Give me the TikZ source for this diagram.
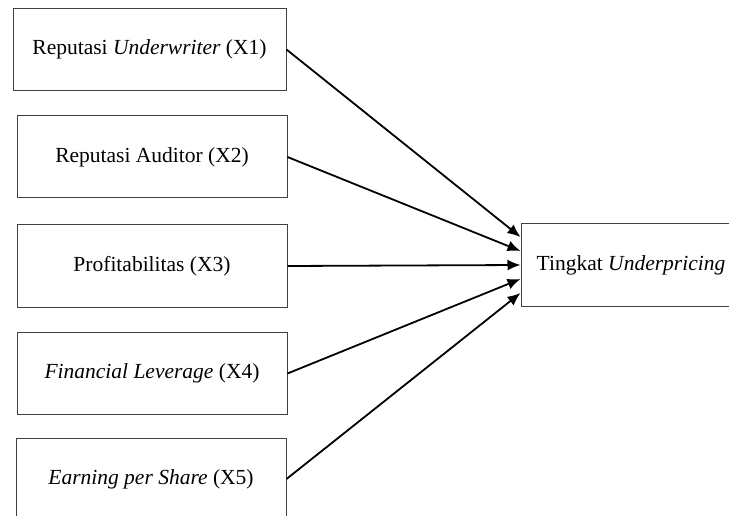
\documentclass[tikz,border=0pt]{standalone}
\usepackage{fontspec}
\setmainfont{Liberation Serif}
\usetikzlibrary{arrows.meta}
\begin{document}
\begin{tikzpicture}[x=1pt,y=-1pt]
        \tikzstyle{varbox}=[draw=black!75,line width=1pt,rectangle,minimum width=270pt,minimum height=82pt,inner sep=0pt,font=\fontsize{21.5}{25}\selectfont]
        \tikzstyle{arr}=[line width=1.8pt,-{Latex[length=13pt,width=11pt]}]
        \clip (0,0) rectangle (729,516);
        \node[varbox,minimum width=273pt] (x1) at (149.5,49.5) {Reputasi \textit{Underwriter} (X1)};
        \node[varbox] (x2) at (152,157) {Reputasi Auditor (X2)};
        \node[varbox] (x3) at (152,266) {Profitabilitas (X3)};
        \node[varbox] (x4) at (152,373.5) {\textit{Financial Leverage} (X4)};
        \node[varbox] (x5) at (151,479) {\textit{Earning per Share} (X5)};
        \node[varbox,minimum width=220pt] (tgt) at (631,265) {Tingkat \textit{Underpricing}};
        \draw[arr] (x1.east) -- ([yshift=28pt]tgt.west);
        \draw[arr] (x2.east) -- ([yshift=14pt]tgt.west);
        \draw[arr] (x3.east) -- (tgt.west);
        \draw[arr] (x4.east) -- ([yshift=-14pt]tgt.west);
        \draw[arr] (x5.east) -- ([yshift=-28pt]tgt.west);
    \end{tikzpicture}
\end{document}
